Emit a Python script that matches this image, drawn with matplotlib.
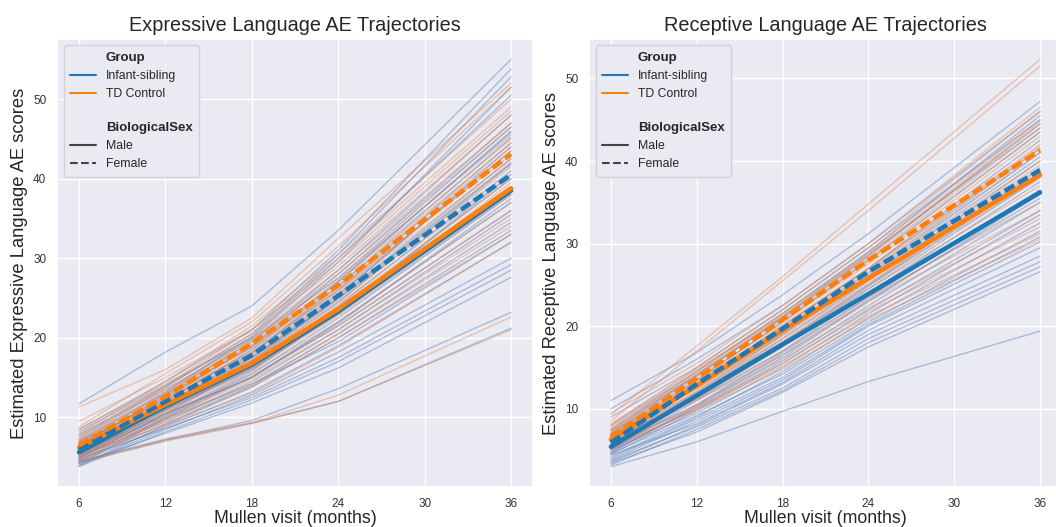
import matplotlib
matplotlib.use("Agg")
import matplotlib.pyplot as plt
import seaborn as sns
from matplotlib.lines import Line2D

# visits (months)
visits = [6, 12, 18, 24, 36]

# expressive language - individual trajectories
expr_sib = [
    [11.7, 18.2, 24.0, 33.5, 55.0], [8.5, 14.5, 21.0, 31.0, 53.8], [7.8, 13.8, 20.5, 30.5, 52.8],
    [8.2, 14.0, 20.0, 29.5, 51.5], [7.0, 13.0, 19.5, 28.5, 48.0], [6.5, 12.5, 19.0, 28.0, 47.0],
    [7.5, 13.5, 19.8, 27.5, 46.5], [6.0, 12.0, 18.5, 27.0, 46.0], [5.5, 11.5, 18.0, 26.5, 45.2],
    [6.8, 12.2, 18.2, 26.0, 44.5], [5.0, 11.0, 17.5, 25.5, 43.5], [6.2, 11.8, 17.0, 25.0, 42.5],
    [5.8, 11.2, 16.8, 24.5, 41.8], [4.8, 10.5, 16.5, 24.0, 41.0], [6.0, 11.0, 16.0, 23.5, 40.0],
    [5.2, 10.8, 16.2, 23.0, 39.0], [4.5, 10.0, 15.5, 22.5, 38.0], [5.5, 10.5, 15.0, 22.0, 37.0],
    [4.2, 9.8, 15.2, 21.5, 36.0], [5.0, 9.5, 14.5, 21.0, 35.5], [4.6, 9.2, 14.0, 20.5, 34.5],
    [3.9, 9.0, 13.8, 20.0, 33.5], [5.2, 9.8, 14.2, 19.5, 33.0], [4.4, 8.8, 13.2, 19.0, 32.0],
    [4.0, 8.5, 12.8, 18.2, 30.0], [4.8, 8.6, 12.5, 17.5, 29.2], [3.8, 8.2, 12.2, 17.0, 28.5],
    [4.2, 8.0, 11.8, 16.2, 27.6], [4.5, 7.2, 9.6, 13.6, 23.2], [4.3, 7.1, 9.3, 12.0, 21.2],
    [7.2, 13.2, 20.2, 30.0, 50.5], [6.4, 12.8, 18.8, 27.2, 45.8], [5.6, 11.4, 17.2, 25.2, 44.0],
    [6.6, 11.6, 17.6, 24.8, 42.0], [5.4, 10.2, 15.8, 23.2, 40.5], [4.9, 10.4, 15.0, 21.8, 37.5],
]
expr_td = [
    [11.3, 16.0, 22.5, 32.5, 52.0], [8.8, 15.5, 22.0, 31.5, 51.5], [8.0, 14.5, 21.5, 30.5, 50.0],
    [7.5, 14.0, 21.0, 30.0, 49.0], [7.2, 13.8, 20.5, 29.0, 48.0], [8.5, 14.2, 20.0, 28.5, 47.0],
    [6.8, 13.2, 19.8, 28.0, 46.5], [7.0, 13.0, 19.5, 27.5, 45.5], [6.5, 12.8, 19.2, 27.0, 45.0],
    [7.8, 13.5, 19.0, 26.5, 44.5], [6.2, 12.5, 18.8, 26.2, 44.0], [6.0, 12.2, 18.5, 26.0, 43.0],
    [7.0, 12.0, 18.0, 25.5, 42.5], [5.8, 11.8, 17.8, 25.0, 42.0], [6.5, 11.5, 17.5, 24.5, 41.5],
    [5.5, 11.2, 17.2, 24.2, 40.5], [6.2, 11.0, 16.8, 23.8, 40.0], [5.2, 10.8, 16.5, 23.2, 39.0],
    [5.8, 10.5, 16.0, 22.8, 38.0], [5.0, 10.2, 15.5, 22.0, 37.0], [5.5, 10.0, 15.0, 21.5, 36.0],
    [4.8, 9.8, 14.8, 21.0, 35.0], [5.0, 9.5, 14.2, 20.5, 34.0], [4.6, 9.2, 13.8, 20.0, 33.0],
    [5.2, 9.0, 13.0, 18.8, 32.0], [4.5, 7.3, 9.3, 12.8, 22.6], [4.3, 7.0, 9.2, 12.0, 21.0],
    [9.5, 15.0, 21.0, 29.5, 48.5], [6.8, 12.6, 18.2, 25.8, 43.5], [5.6, 11.0, 16.2, 23.0, 39.5],
]
# expressive group means
expr_sib_male = [5.6, 11.4, 16.6, 23.3, 38.5]
expr_sib_female = [5.9, 12.0, 17.8, 25.3, 40.5]
expr_td_male = [6.2, 11.6, 16.8, 23.6, 38.8]
expr_td_female = [6.5, 12.6, 19.3, 26.6, 43.1]

# receptive language - individual trajectories
rec_sib = [
    [11.0, 16.8, 23.8, 31.2, 47.2], [10.0, 16.0, 22.5, 30.0, 46.0], [8.0, 14.5, 21.5, 29.0, 45.5],
    [7.5, 14.0, 21.0, 28.5, 44.5], [7.0, 13.5, 20.5, 28.0, 43.5], [6.5, 13.0, 20.0, 27.0, 42.5],
    [6.8, 12.8, 19.5, 26.5, 41.5], [6.0, 12.0, 19.0, 26.0, 40.5], [5.8, 11.8, 18.5, 25.5, 40.0],
    [5.5, 11.5, 18.0, 25.0, 39.0], [6.2, 11.2, 17.5, 24.5, 38.0], [5.0, 11.0, 17.0, 24.0, 37.5],
    [5.5, 10.5, 16.8, 23.5, 36.5], [4.8, 10.2, 16.2, 23.0, 36.0], [5.2, 10.0, 15.8, 22.5, 35.0],
    [4.5, 9.8, 15.5, 22.0, 34.0], [5.0, 9.5, 15.0, 21.5, 33.5], [4.2, 9.0, 14.5, 21.0, 32.5],
    [4.6, 9.2, 14.2, 20.5, 31.5], [4.0, 8.8, 13.8, 20.2, 30.8], [3.8, 8.5, 13.5, 20.0, 30.2],
    [4.4, 8.2, 13.2, 19.5, 29.5], [3.5, 8.0, 13.0, 19.0, 28.5], [3.7, 7.8, 12.5, 18.5, 27.8],
    [3.2, 7.5, 12.2, 18.0, 27.2], [3.4, 7.2, 12.0, 17.5, 26.6], [3.0, 6.0, 9.7, 13.3, 19.4],
    [7.2, 14.2, 21.2, 28.8, 44.0], [6.4, 12.6, 19.2, 26.2, 41.0], [5.6, 11.4, 17.8, 24.8, 38.5],
    [4.7, 10.4, 16.5, 23.2, 35.5], [9.0, 15.0, 22.0, 29.5, 45.0],
]
rec_td = [
    [9.3, 17.6, 26.0, 34.8, 52.3], [8.5, 17.0, 25.5, 34.0, 51.5], [9.5, 15.5, 22.5, 30.0, 46.5],
    [8.0, 15.0, 22.0, 29.5, 46.0], [7.5, 14.5, 21.5, 29.0, 45.0], [8.2, 14.8, 21.2, 28.5, 44.5],
    [7.0, 14.0, 21.0, 28.2, 44.0], [7.8, 14.2, 20.8, 27.8, 43.5], [6.8, 13.5, 20.5, 27.5, 43.0],
    [7.2, 13.8, 20.2, 27.0, 42.0], [6.5, 13.2, 20.0, 27.0, 41.5], [7.0, 13.0, 19.5, 26.5, 41.0],
    [6.2, 12.8, 19.2, 26.0, 40.0], [6.8, 12.5, 19.0, 25.8, 39.5], [6.0, 12.2, 18.5, 25.2, 38.5],
    [6.5, 12.0, 18.2, 25.0, 38.0], [5.8, 11.8, 18.0, 24.5, 37.0], [6.2, 11.5, 17.5, 24.0, 36.0],
    [5.5, 11.2, 17.0, 23.5, 35.0], [6.0, 11.0, 16.5, 23.0, 34.0], [5.2, 10.5, 16.0, 22.2, 33.0],
    [5.8, 10.2, 15.5, 21.8, 32.0], [5.0, 10.0, 15.2, 21.2, 31.2], [5.5, 9.8, 14.8, 20.8, 30.5],
    [7.5, 14.6, 21.6, 28.6, 44.8], [6.6, 13.4, 19.8, 26.8, 41.8], [7.4, 12.4, 18.8, 25.6, 39.2],
]
# receptive group means
rec_sib_male = [5.4, 11.6, 17.8, 23.9, 36.2]
rec_sib_female = [5.9, 13.0, 19.7, 26.6, 38.9]
rec_td_male = [6.3, 12.8, 19.5, 25.8, 38.3]
rec_td_female = [6.6, 13.7, 20.8, 28.0, 41.3]

sns.set_theme(style="darkgrid")
plt.rcParams["font.family"] = ["Liberation Sans", "DejaVu Sans"]

fig = plt.figure(figsize=(10.56, 5.27), dpi=100)
ax1 = fig.add_axes([0.0544, 0.0759, 0.450, 0.850])
ax2 = fig.add_axes([0.5582, 0.0759, 0.447, 0.850])

thin_blue = "#4c72b0"
thin_orange = "#dd8452"
blue = "#1f77b4"
orange = "#ff7f0e"


def draw_panel(ax, sib, td, means, title, ylabel):
    for row in sib:
        ax.plot(visits, row, color=thin_blue, alpha=0.4, lw=1)
    for row in td:
        ax.plot(visits, row, color=thin_orange, alpha=0.4, lw=1)
    sib_m, sib_f, td_m, td_f = means
    ax.plot(visits, sib_m, color=blue, lw=3.3, solid_capstyle="round")
    ax.plot(visits, td_m, color=orange, lw=3.3, solid_capstyle="round")
    ax.plot(visits, sib_f, color=blue, lw=3.3, dashes=(2.4, 1.0))
    ax.plot(visits, td_f, color=orange, lw=3.3, dashes=(2.4, 1.0))
    ax.set_xticks([6, 12, 18, 24, 30, 36])
    ax.set_yticks([10, 20, 30, 40, 50])
    ax.tick_params(labelsize=8.5, colors="#333333", pad=2)
    ax.set_title(title, fontsize=14.3, color="#262626")
    ax.set_xlabel("Mullen visit (months)", fontsize=12.8, color="#262626", labelpad=0)
    ax.set_ylabel(ylabel, fontsize=13.2, color="#262626", labelpad=4)

    handles = [
        Line2D([], [], color="none"),
        Line2D([], [], color=blue, lw=1.5),
        Line2D([], [], color=orange, lw=1.5),
        Line2D([], [], color="none"),
        Line2D([], [], color="none"),
        Line2D([], [], color="#444444", lw=1.5),
        Line2D([], [], color="#444444", lw=1.5, ls="--"),
    ]
    labels = ["Group", "Infant-sibling", "TD Control", " ", "BiologicalSex", "Male", "Female"]
    leg = ax.legend(handles, labels, loc="upper left", fontsize=8.8, handlelength=2.1,
                    labelspacing=0.5, borderpad=0.55, frameon=True)
    texts = leg.get_texts()
    for i in (0, 4):
        texts[i].set_fontweight("bold")
        texts[i].set_fontsize(9.5)
    texts[3].set_fontsize(4)


draw_panel(ax1, expr_sib, expr_td,
           (expr_sib_male, expr_sib_female, expr_td_male, expr_td_female),
           "Expressive Language AE Trajectories", "Estimated Expressive Language AE scores")
draw_panel(ax2, rec_sib, rec_td,
           (rec_sib_male, rec_sib_female, rec_td_male, rec_td_female),
           "Receptive Language AE Trajectories", "Estimated Receptive Language AE scores")

fig.savefig("out.png", dpi=100)
